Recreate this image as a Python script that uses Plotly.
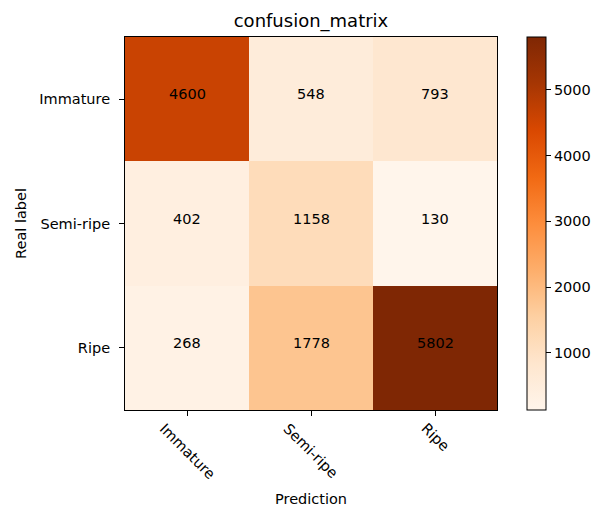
import plotly.graph_objects as go

classes = ["Immature", "Semi-ripe", "Ripe"]
matrix = [
    [4600, 548, 793],
    [402, 1158, 130],
    [268, 1778, 5802],
]
cbar_ticks = [1000, 2000, 3000, 4000, 5000]

oranges = ['#fff5eb', '#fee6ce', '#fdd0a2', '#fdae6b', '#fd8d3c',
           '#f16913', '#d94801', '#a63603', '#7f2704']
cscale = [[i / (len(oranges) - 1), c] for i, c in enumerate(oranges)]

zmin = min(min(r) for r in matrix)
zmax = max(max(r) for r in matrix)

FONT = "DejaVu Sans"
FS = 14.5

fig = go.Figure(go.Heatmap(
    z=matrix,
    x=list(range(len(classes))),
    y=list(range(len(classes))),
    colorscale=cscale,
    zmin=zmin, zmax=zmax,
    xgap=0, ygap=0,
    hoverinfo="z",
    colorbar=dict(
        thickness=19, thicknessmode="pixels",
        len=1, lenmode="fraction",
        x=(527 - 125) / 372, xanchor="left", xpad=0,
        y=0.5, yanchor="middle", ypad=0,
        outlinewidth=1, outlinecolor="black",
        tickvals=cbar_ticks,
        ticks="outside", ticklen=5, tickcolor="black",
        tickfont=dict(family=FONT, size=FS, color="black"),
    ),
))

# cell values
for r, row in enumerate(matrix):
    for c, v in enumerate(row):
        fig.add_annotation(
            x=c, y=r, xref="x", yref="y", text=str(v), showarrow=False,
            xanchor="center", yanchor="middle", yshift=5,
            font=dict(family=FONT, size=FS, color="black"),
        )

# rotated, centre-aligned x tick labels (matplotlib style)
for i, name in enumerate(classes):
    fig.add_annotation(
        x=i, xref="x", y=0, yref="paper",
        text=name, textangle=45, showarrow=False,
        xanchor="center", yanchor="top", yshift=-9,
        borderpad=0,
        font=dict(family=FONT, size=FS, color="black"),
    )

fig.add_annotation(
    x=0.5, xref="paper", y=-89 / 373, yref="paper",
    text="Prediction", showarrow=False,
    xanchor="center", yanchor="middle",
    font=dict(family=FONT, size=FS, color="black"),
)

fig.update_layout(
    width=595, height=506,
    margin=dict(l=125, r=98, t=37, b=96, autoexpand=False),
    paper_bgcolor="white", plot_bgcolor="white",
    title=dict(text="confusion_matrix", x=311 / 595,
               xanchor="center", y=1 - 21 / 506, yanchor="middle",
               font=dict(family=FONT, size=18, color="black")),
    font=dict(family=FONT, color="black"),
)
fig.update_xaxes(
    range=[-0.5, 2.5], tickvals=list(range(len(classes))), ticktext=classes,
    showticklabels=False, ticks="outside", ticklen=5, tickcolor="black",
    showline=True, linecolor="black", linewidth=1, mirror=True,
    showgrid=False, zeroline=False,
)
fig.update_yaxes(
    range=[2.5, -0.5], tickvals=list(range(len(classes))), ticktext=classes,
    ticks="outside", ticklen=5, tickcolor="black", ticklabelstandoff=6,
    showline=True, linecolor="black", linewidth=1, mirror=True,
    showgrid=False, zeroline=False,
    tickfont=dict(family=FONT, size=FS, color="black"),
    title=dict(text="Real label", font=dict(family=FONT, size=FS, color="black"), standoff=9),
)

fig.write_html("out.html",
               config={"displayModeBar": False},
               post_script="document.body.style.margin='0';document.body.style.padding='0';")
